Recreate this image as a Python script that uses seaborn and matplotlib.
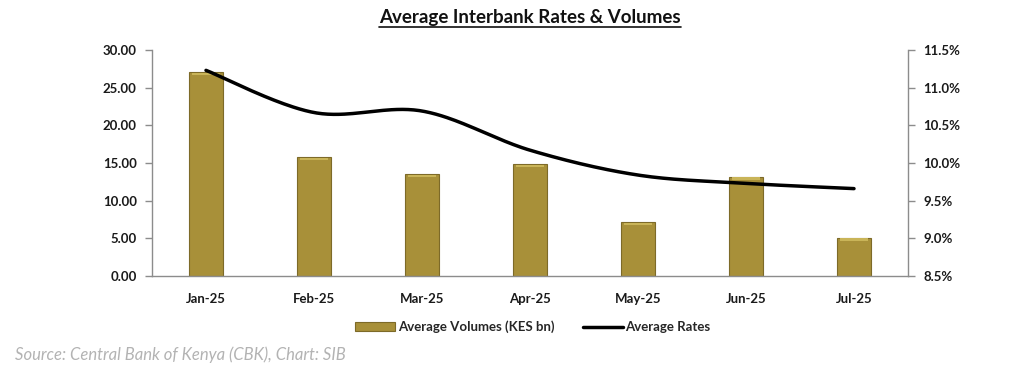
import numpy as np
import pandas as pd
import matplotlib
matplotlib.use("Agg")
import matplotlib.pyplot as plt
from matplotlib.lines import Line2D
from matplotlib.patches import Patch
import seaborn as sns

months = ["Jan-25", "Feb-25", "Mar-25", "Apr-25", "May-25", "Jun-25", "Jul-25"]
volumes = [27.1, 15.8, 13.5, 14.9, 7.2, 13.2, 5.1]
rates = [11.23, 10.67, 10.69, 10.17, 9.84, 9.73, 9.66]
left_ticks = [0, 5, 10, 15, 20, 25, 30]
right_ticks = [8.5, 9.0, 9.5, 10.0, 10.5, 11.0, 11.5]

sns.set_theme(style="white")
plt.rcParams['font.family'] = ['Lato', 'DejaVu Sans']

GOLD = "#A89039"
GRAY = "#8c8c8c"

fig = plt.figure(figsize=(10.24, 3.79), dpi=100)
ax = fig.add_axes([152/1024, 1-276/379, (908-152)/1024, (276-50)/379])

df = pd.DataFrame({"Month": months, "Volume": volumes})
sns.barplot(data=df, x="Month", y="Volume", color=GOLD, width=0.31,
            saturation=1, edgecolor="#7d6a28", linewidth=0.8, ax=ax)
# subtle top highlight (bevel look)
for p in list(ax.patches):
    x0, w, h = p.get_x(), p.get_width(), p.get_height()
    ax.add_patch(plt.Rectangle((x0 + w*0.08, h - 0.42), w*0.84, 0.3,
                               color="#c9b458", lw=0, zorder=p.get_zorder()+0.1))

ax.set_xlim(-0.5, 6.5)
ax.set_ylim(0, 30)
ax.set_yticks(left_ticks)
ax.set_yticklabels([f"{v:.2f}" for v in left_ticks])
ax.set_xlabel("")
ax.set_ylabel("")
ax.set_xticks(range(len(months)))
ax.set_xticklabels(months)
ax.set_xticks(np.arange(-0.5, 7, 1), minor=True)
ax.tick_params(axis="x", which="major", length=0, pad=12, labelsize=9.5)
ax.tick_params(axis="x", which="minor", length=5, color=GRAY, width=1, direction="out")
ax.tick_params(axis="y", length=5, color=GRAY, width=1, direction="out", labelsize=9.5, pad=6)
for lab in ax.get_xticklabels() + ax.get_yticklabels():
    lab.set_fontweight("bold")
    lab.set_color("#1a1a1a")
for s in ["top", "right"]:
    ax.spines[s].set_visible(False)
for s in ["left", "bottom"]:
    ax.spines[s].set_color(GRAY)
    ax.spines[s].set_linewidth(1)

ax2 = ax.twinx()
# smooth curve (Catmull-Rom through the data points, like Excel smoothing)
xs = np.arange(len(rates), dtype=float)
ys = np.array(rates)
px = np.concatenate([[xs[0]], xs, [xs[-1]]])
py = np.concatenate([[ys[0]], ys, [ys[-1]]])
cx, cy = [], []
t = np.linspace(0, 1, 40)
for i in range(1, len(px) - 2):
    p0, p1, p2, p3 = [np.array([px[j], py[j]]) for j in (i-1, i, i+1, i+2)]
    b1 = p1 + (p2 - p0) / 6
    b2 = p2 - (p3 - p1) / 6
    pts = ((1-t)**3)[:, None]*p1 + (3*(1-t)**2*t)[:, None]*b1 + (3*(1-t)*t**2)[:, None]*b2 + (t**3)[:, None]*p2
    cx.extend(pts[:, 0]); cy.extend(pts[:, 1])
curve = pd.DataFrame({"x": cx, "y": cy})
sns.lineplot(data=curve, x="x", y="y", color="black", linewidth=2.5, ax=ax2,
             sort=False, estimator=None)
ax2.set_ylim(8.5, 11.5)
ax2.set_yticks(right_ticks)
ax2.set_yticklabels([f"{v:.1f}%" for v in right_ticks])
ax2.set_xlabel(""); ax2.set_ylabel("")
ax2.tick_params(axis="y", length=5, color=GRAY, width=1, direction="out", labelsize=9.5, pad=6)
for lab in ax2.get_yticklabels():
    lab.set_fontweight("bold"); lab.set_color("#1a1a1a")
for s in ["top", "left", "bottom"]:
    ax2.spines[s].set_visible(False)
ax2.spines["right"].set_color(GRAY)
ax2.spines["right"].set_linewidth(1)
ax2.set_xlim(-0.5, 6.5)

# title with underline
title = fig.text(530/1024, 1-17/379, "Average Interbank Rates & Volumes",
                 ha="center", va="center", fontsize=13.5, fontweight="bold", color="#111111")
fig.canvas.draw()
bb = title.get_window_extent().transformed(fig.transFigure.inverted())
fig.add_artist(Line2D([bb.x0, bb.x1], [bb.y0 - 0.004, bb.y0 - 0.004],
                      transform=fig.transFigure, color="#111111", linewidth=1.2))

handles = [Patch(facecolor=GOLD, edgecolor="#7d6a28", linewidth=0.8),
           Line2D([0], [0], color="black", linewidth=2.5)]
fig.legend(handles, ["Average Volumes (KES bn)", "Average Rates"],
           loc="center", bbox_to_anchor=(533/1024, 1-327/379), ncol=2, frameon=False,
           prop={"weight": "bold", "size": 9.5}, handlelength=3.0, handleheight=0.6,
           handletextpad=0.2, columnspacing=2.2)

fig.text(15/1024, 1-355/379, "Source: Central Bank of Kenya (CBK), Chart: SIB",
         ha="left", va="center", fontsize=12, style="italic", color="#b3b3b3")

fig.savefig("out.png", dpi=100)
